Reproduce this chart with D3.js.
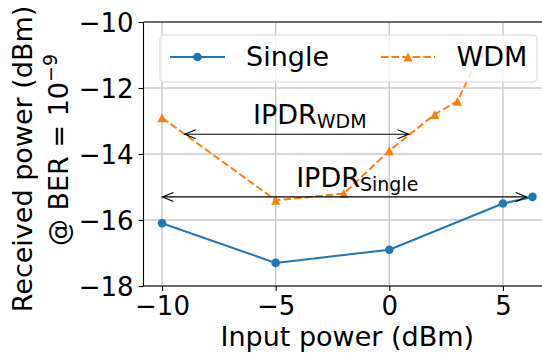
<!DOCTYPE html>
<html><head><meta charset="utf-8">
<script src="https://cdn.jsdelivr.net/npm/d3@7"></script>
<style>
html,body{margin:0;padding:0;background:#fff;}
svg{display:block;font-family:"DejaVu Sans",sans-serif;}
</style></head>
<body>
<svg id="c" width="542" height="354"></svg>
<script>
// ---- data ----
const singleX = [-10, -5, 0, 5, 6.3];
const singleY = [-16.1, -17.3, -16.9, -15.5, -15.3];
const wdmX = [-10, -5, -2, 0, 2, 3, 4];
const wdmY = [-12.9, -15.4, -15.2, -13.9, -12.8, -12.4, -10.95];
const xTicks = [-10, -5, 0, 5];
const yTicks = [-18, -16, -14, -12, -10];
const seriesNames = ["Single", "WDM"];
// annotation arrows: [x1, x2, y]
const ipdrWdm = [-9.0, 0.85, -13.4];
const ipdrSingle = [-9.98, 6.05, -15.3];

const svg = d3.select("#c");
const L = 143.5, R = 551, T = 22, B = 286;
const x = d3.scaleLinear().domain([-10.815, 7.115]).range([L, R]);
const y = d3.scaleLinear().domain([-18, -10]).range([B, T]);
const fmt = v => (v < 0 ? "\u2212" + Math.abs(v) : String(v));
const FS = 26, LFS = 27;

// grid
const g = svg.append("g");
g.selectAll(".gx").data(xTicks).enter().append("line")
  .attr("x1", d => x(d)).attr("x2", d => x(d)).attr("y1", T).attr("y2", B)
  .attr("stroke", "#c8c8c8").attr("stroke-width", 1.4);
g.selectAll(".gy").data(yTicks).enter().append("line")
  .attr("x1", L).attr("x2", R).attr("y1", d => y(d)).attr("y2", d => y(d))
  .attr("stroke", "#c8c8c8").attr("stroke-width", 1.4);

// axes
const xAxis = d3.axisBottom(x).tickValues(xTicks).tickFormat(fmt).tickSize(5).tickPadding(4);
const yAxis = d3.axisLeft(y).tickValues(yTicks).tickFormat(fmt).tickSize(5).tickPadding(5);
const gx = svg.append("g").attr("transform", `translate(0,${B})`).call(xAxis);
const gy = svg.append("g").attr("transform", `translate(${L},0)`).call(yAxis);
[gx, gy].forEach(a => {
  a.select(".domain").remove();
  a.selectAll("text").attr("font-size", FS).attr("font-family", "DejaVu Sans").attr("fill", "#000");
  a.selectAll("line").attr("stroke", "#000").attr("stroke-width", 1.1);
});
gy.selectAll("text").attr("dy", "0.36em");
gx.selectAll("text").attr("dy", "0.76em");
// spines
svg.append("line").attr("x1", L).attr("x2", L).attr("y1", T).attr("y2", B).attr("stroke", "#000").attr("stroke-width", 1.1);
svg.append("line").attr("x1", L).attr("x2", R).attr("y1", B).attr("y2", B).attr("stroke", "#000").attr("stroke-width", 1.1);
svg.append("line").attr("x1", L).attr("x2", R).attr("y1", T).attr("y2", T).attr("stroke", "#000").attr("stroke-width", 1.1);

// axis labels
svg.append("text").attr("x", (L + R) / 2).attr("y", 345.5).attr("text-anchor", "middle")
  .attr("font-size", LFS).text("Input power (dBm)");
svg.append("text").attr("transform", "translate(32,159) rotate(-90)").attr("text-anchor", "middle")
  .attr("font-size", LFS).text("Received power (dBm)");
const yl2 = svg.append("text").attr("transform", "translate(68,150) rotate(-90)").attr("text-anchor", "middle")
  .attr("font-size", LFS);
yl2.append("tspan").text("@ BER = 10");
yl2.append("tspan").attr("font-size", 19).attr("dy", -11).text("\u22129");

// series
const single = singleX.map((v, i) => [v, singleY[i]]);
const wdm = wdmX.map((v, i) => [v, wdmY[i]]);
const line = d3.line().x(d => x(d[0])).y(d => y(d[1]));
const BLUE = "#1f77b4", ORANGE = "#ff7f0e";
svg.append("path").attr("d", line(wdm)).attr("fill", "none").attr("stroke", ORANGE)
  .attr("stroke-width", 2).attr("stroke-dasharray", "7.4,3.2");
const tri = (cx, cy, s) => `M${cx},${cy - s / 2}L${cx - s / 2},${cy + s / 2}L${cx + s / 2},${cy + s / 2}Z`;
svg.selectAll(".tw").data(wdm).enter().append("path")
  .attr("d", d => tri(x(d[0]), y(d[1]), 9)).attr("fill", ORANGE);
svg.append("path").attr("d", line(single)).attr("fill", "none").attr("stroke", BLUE).attr("stroke-width", 2);
svg.selectAll(".cs").data(single).enter().append("circle")
  .attr("cx", d => x(d[0])).attr("cy", d => y(d[1])).attr("r", 4.3).attr("fill", BLUE);

// arrows
function dblArrow(a) {
  const x1 = x(a[0]), x2 = x(a[1]), yy = y(a[2]);
  const hl = 11, hw = 4.5;
  svg.append("line").attr("x1", x1).attr("x2", x2).attr("y1", yy).attr("y2", yy)
    .attr("stroke", "#000").attr("stroke-width", 1.1);
  svg.append("path").attr("d", `M${x1 + hl},${yy - hw}L${x1},${yy}L${x1 + hl},${yy + hw}`)
    .attr("fill", "none").attr("stroke", "#000").attr("stroke-width", 1.1);
  svg.append("path").attr("d", `M${x2 - hl},${yy - hw}L${x2},${yy}L${x2 - hl},${yy + hw}`)
    .attr("fill", "none").attr("stroke", "#000").attr("stroke-width", 1.1);
}
dblArrow(ipdrWdm);
dblArrow(ipdrSingle);
function ipdr(cx, by, sub) {
  const t = svg.append("text").attr("x", x(cx)).attr("y", y(by)).attr("text-anchor", "middle").attr("font-size", LFS);
  t.append("tspan").text("IPDR");
  t.append("tspan").attr("font-size", 19).attr("dy", 4).text(sub);
}
ipdr(-3.5, -13.1, "WDM");
ipdr(-1.41, -15.01, "Single");

// legend
const lg = svg.append("g");
lg.append("rect").attr("x", 160).attr("y", 35).attr("width", 377).attr("height", 47).attr("rx", 4)
  .attr("fill", "#fff").attr("fill-opacity", 0.8).attr("stroke", "#d6d6d6").attr("stroke-width", 1.1);
const ly = 57;
lg.append("line").attr("x1", 170).attr("x2", 225).attr("y1", ly).attr("y2", ly).attr("stroke", BLUE).attr("stroke-width", 2);
lg.append("circle").attr("cx", 197.5).attr("cy", ly).attr("r", 4.3).attr("fill", BLUE);
lg.append("line").attr("x1", 381).attr("x2", 435).attr("y1", ly).attr("y2", ly).attr("stroke", ORANGE)
  .attr("stroke-width", 2).attr("stroke-dasharray", "7.4,3.2");
lg.append("path").attr("d", tri(408, ly, 9)).attr("fill", ORANGE);
lg.append("text").attr("x", 246).attr("y", 66).attr("font-size", LFS).text(seriesNames[0]);
lg.append("text").attr("x", 456.5).attr("y", 66).attr("font-size", LFS).text(seriesNames[1]);
</script>
</body></html>
